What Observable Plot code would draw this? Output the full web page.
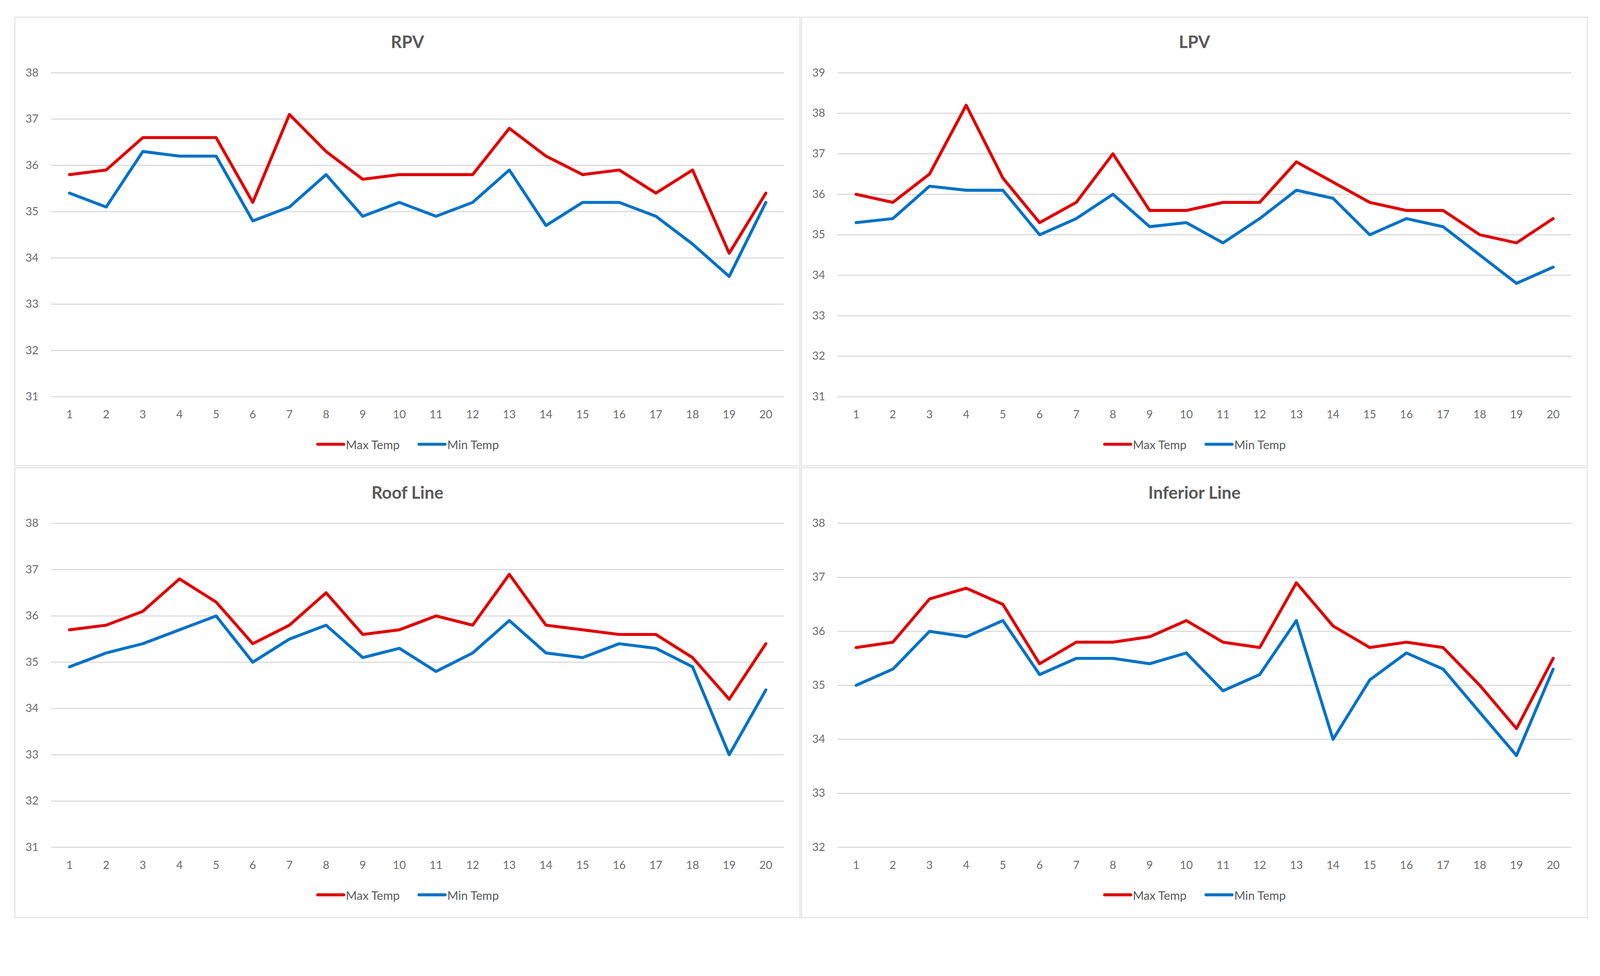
<!DOCTYPE html>
<html>
<head>
<meta charset="utf-8">
<script src="https://cdn.jsdelivr.net/npm/d3@7"></script>
<script src="https://cdn.jsdelivr.net/npm/@observablehq/plot@0.6"></script>
<style>
  html, body { margin: 0; padding: 0; background: #fff; overflow: hidden; }
  #stage { position: absolute; left: 0; top: 0; width: 4296px; height: 2499px; transform-origin: 0 0; font-family: Lato, "Open Sans", sans-serif; }
  .panel { position: absolute; box-sizing: border-box; border: 2px solid #d9d9d9; background: #fff; }
  .title { position: absolute; left: 0; right: 0; top: 36px; text-align: center; font-weight: 700; font-size: 46px; line-height: 58px; color: #595959; }
  .plotwrap { position: absolute; left: 0; top: 100px; }
  .legend { position: absolute; left: 0; right: 0; top: 1124px; height: 44px; display: flex; justify-content: center; align-items: center; gap: 48px; font-size: 32px; color: #595959; }
  .legend .item { display: flex; align-items: center; }
  .legend .swatch { width: 78px; height: 8px; border-radius: 4px; margin-right: 2px; }
</style>
</head>
<body>
<div id="stage"></div>
<script>
// ---- data ----
const categories = [1,2,3,4,5,6,7,8,9,10,11,12,13,14,15,16,17,18,19,20];
const seriesNames = ["Max Temp", "Min Temp"];
const seriesColors = ["#e00000", "#0072c6"];

const rpvMax = [35.8,35.9,36.6,36.6,36.6,35.2,37.1,36.3,35.7,35.8,35.8,35.8,36.8,36.2,35.8,35.9,35.4,35.9,34.1,35.4];
const rpvMin = [35.4,35.1,36.3,36.2,36.2,34.8,35.1,35.8,34.9,35.2,34.9,35.2,35.9,34.7,35.2,35.2,34.9,34.3,33.6,35.2];
const rpvTicks = [31,32,33,34,35,36,37,38];

const lpvMax = [36.0,35.8,36.5,38.2,36.4,35.3,35.8,37.0,35.6,35.6,35.8,35.8,36.8,36.3,35.8,35.6,35.6,35.0,34.8,35.4];
const lpvMin = [35.3,35.4,36.2,36.1,36.1,35.0,35.4,36.0,35.2,35.3,34.8,35.4,36.1,35.9,35.0,35.4,35.2,34.5,33.8,34.2];
const lpvTicks = [31,32,33,34,35,36,37,38,39];

const roofMax = [35.7,35.8,36.1,36.8,36.3,35.4,35.8,36.5,35.6,35.7,36.0,35.8,36.9,35.8,35.7,35.6,35.6,35.1,34.2,35.4];
const roofMin = [34.9,35.2,35.4,35.7,36.0,35.0,35.5,35.8,35.1,35.3,34.8,35.2,35.9,35.2,35.1,35.4,35.3,34.9,33.0,34.4];
const roofTicks = [31,32,33,34,35,36,37,38];

const infMax = [35.7,35.8,36.6,36.8,36.5,35.4,35.8,35.8,35.9,36.2,35.8,35.7,36.9,36.1,35.7,35.8,35.7,35.0,34.2,35.5];
const infMin = [35.0,35.3,36.0,35.9,36.2,35.2,35.5,35.5,35.4,35.6,34.9,35.2,36.2,34.0,35.1,35.6,35.3,34.5,33.7,35.3];
const infTicks = [32,33,34,35,36,37,38];

const panelTitles = ["RPV", "LPV", "Roof Line", "Inferior Line"];

// ---- layout ----
const stage = document.getElementById("stage");
const sc = Math.min(window.innerWidth / 4296, window.innerHeight / 2499);
stage.style.transform = "scale(" + sc + ")";

const panels = [
  {title: panelTitles[0], max: rpvMax,  min: rpvMin,  ticks: rpvTicks,  left: 39,   top: 45,   w: 2110, h: 1207},
  {title: panelTitles[1], max: lpvMax,  min: lpvMin,  ticks: lpvTicks,  left: 2151, top: 45,   w: 2112, h: 1207},
  {title: panelTitles[2], max: roofMax, min: roofMin, ticks: roofTicks, left: 39,   top: 1255, w: 2110, h: 1210},
  {title: panelTitles[3], max: infMax,  min: infMin,  ticks: infTicks,  left: 2151, top: 1255, w: 2112, h: 1210}
];

for (const p of panels) {
  const div = document.createElement("div");
  div.className = "panel";
  Object.assign(div.style, {left: p.left + "px", top: p.top + "px", width: p.w + "px", height: p.h + "px"});

  const t = document.createElement("div");
  t.className = "title";
  t.textContent = p.title;
  div.appendChild(t);

  const rows = [];
  seriesNames.forEach((s, si) => {
    const vals = si === 0 ? p.max : p.min;
    categories.forEach((c, i) => rows.push({x: c, y: vals[i], series: s}));
  });

  const chart = Plot.plot({
    width: p.w - 4,
    height: 1010,
    marginLeft: 96,
    marginRight: 42,
    marginTop: 48,
    marginBottom: 92,
    style: {fontFamily: "Lato, 'Open Sans', sans-serif", fontSize: "30px", color: "#6b6b6b", background: "transparent", maxWidth: "none"},
    x: {domain: [0.5, categories.length + 0.5], ticks: categories},
    y: {domain: [p.ticks[0], p.ticks[p.ticks.length - 1]], ticks: p.ticks},
    color: {domain: seriesNames, range: seriesColors},
    marks: [
      Plot.ruleY(p.ticks, {stroke: "#d9d9d9", strokeWidth: 3}),
      Plot.axisY(p.ticks, {tickSize: 0, tickPadding: 34, fontSize: 30, fill: "#6b6b6b", label: null, tickFormat: d => String(d)}),
      Plot.axisX(categories, {tickSize: 0, tickPadding: 37, fontSize: 30, fill: "#6b6b6b", label: null, tickFormat: d => String(d)}),
      Plot.line(rows, {x: "x", y: "y", z: "series", stroke: "series", strokeWidth: 8, strokeLinejoin: "round", strokeLinecap: "round"})
    ]
  });
  const wrap = document.createElement("div");
  wrap.className = "plotwrap";
  wrap.appendChild(chart);
  div.appendChild(wrap);

  const leg = document.createElement("div");
  leg.className = "legend";
  seriesNames.forEach((s, i) => {
    const item = document.createElement("div");
    item.className = "item";
    const sw = document.createElement("span");
    sw.className = "swatch";
    sw.style.background = seriesColors[i];
    const lab = document.createElement("span");
    lab.textContent = s;
    item.appendChild(sw);
    item.appendChild(lab);
    leg.appendChild(item);
  });
  div.appendChild(leg);

  stage.appendChild(div);
}
</script>
</body>
</html>
